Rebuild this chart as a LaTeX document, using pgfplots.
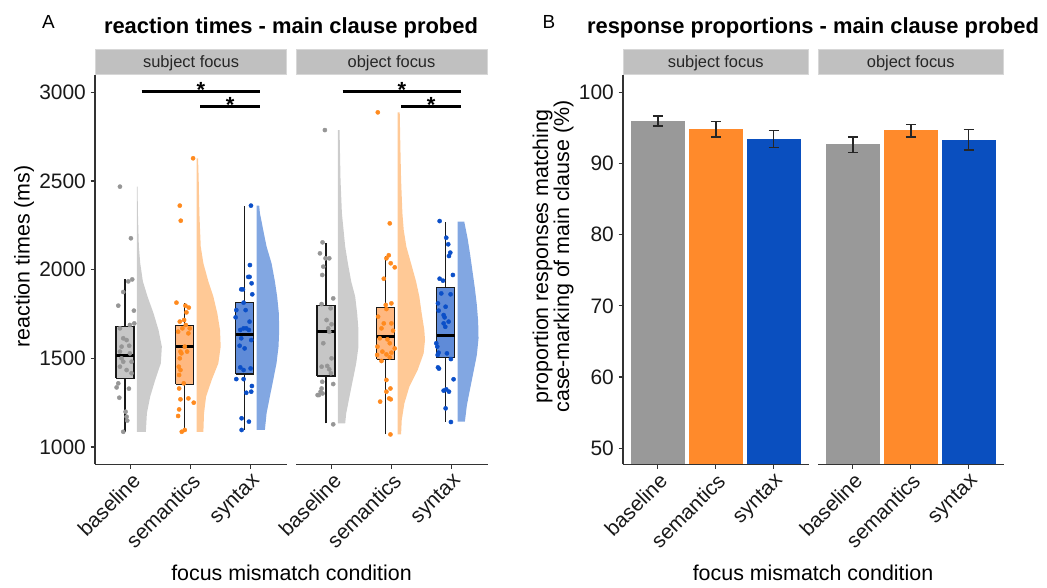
\documentclass[border=0pt]{standalone}
\usepackage{pgfplots}
\pgfplotsset{compat=1.18}
\usepackage{fontspec}
\setmainfont{Liberation Sans}
\definecolor{ptgray}{RGB}{150,150,150}
\definecolor{ptorange}{RGB}{255,138,30}
\definecolor{ptblue}{RGB}{11,79,200}
\definecolor{vgray}{RGB}{204,204,204}
\definecolor{vorange}{RGB}{255,201,150}
\definecolor{vblue}{RGB}{130,167,226}
\definecolor{bgray}{RGB}{198,198,198}
\definecolor{borange}{RGB}{255,184,128}
\definecolor{bblue}{RGB}{95,139,216}
\definecolor{bargray}{RGB}{153,153,153}
\definecolor{barorange}{RGB}{255,138,43}
\definecolor{barblue}{RGB}{10,79,191}
\definecolor{stripfill}{RGB}{192,192,192}
\definecolor{stripdraw}{RGB}{215,215,215}
\newcommand{\tickfont}{\fontsize{21}{21}\selectfont}
\newcommand{\labfont}{\fontsize{21.5}{21.5}\selectfont}
\newcommand{\stripfont}{\fontsize{16.5}{16.5}\selectfont}
\newcommand{\titlefont}{\fontsize{22}{22}\selectfont\bfseries}
\newcommand{\starfont}{\fontsize{22}{22}\selectfont\bfseries}
% box: x-left, x-centre, x-right, lower whisker, lower quartile, median, upper quartile, upper whisker, fill
\newcommand{\bxp}[9]{%
  \addplot[black!90, line width=1.4bp] coordinates {(#2,#4) (#2,#5)};
  \addplot[black!90, line width=1.4bp] coordinates {(#2,#7) (#2,#8)};
  \addplot[fill=#9, draw=black!90, line width=1.4bp] coordinates {(#1,#5) (#3,#5) (#3,#7) (#1,#7) (#1,#5)};
  \addplot[black, line width=3bp] coordinates {(#1,#6) (#3,#6)};
}
% error bar: x, lower, upper, cap-left, cap-right
\newcommand{\erb}[5]{%
  \addplot[black!85, line width=1.5bp] coordinates {(#1,#2) (#1,#3)};
  \addplot[black!85, line width=1.5bp] coordinates {(#4,#2) (#5,#2)};
  \addplot[black!85, line width=1.5bp] coordinates {(#4,#3) (#5,#3)};
}
\pgfplotsset{
  facet/.style={
    scale only axis, anchor=north west, height=389.3bp,
    xmin=0.4, xmax=3.6,
    axis x line*=bottom, axis y line*=left,
    axis line style={-, black!80, line width=1.1bp},
    tick align=outside, major tick length=4.5bp,
    tick style={black!80, line width=1.1bp},
    xtick={1,2,3}, xticklabels={baseline,semantics,syntax},
    xticklabel style={rotate=45, anchor=north east, inner sep=2bp, font=\tickfont, text=black!90},
    yticklabel style={font=\tickfont, text=black!90, inner sep=4.5bp},
    /pgf/number format/assume math mode=true,
    /pgf/number format/1000 sep={},
  },
  rtA/.style={facet, width=191.5bp, ymin=902.5, ymax=3097.5, ytick={1000,1500,2000,2500,3000}, clip=false},
  prB/.style={facet, width=185.5bp, ymin=47.75, ymax=102.4, ytick={50,60,70,80,90,100}},
  noy/.style={axis y line=none},
  vio/.style={draw=none},
  pts/.style={only marks, mark=*, mark size=2.1bp, mark options={draw=none}},
  sig/.style={black, line width=2.6bp},
  br/.style={ybar, fill, draw=none, bar width=0.93, bar shift=0pt},
}
\begin{document}
\begin{tikzpicture}
\useasboundingbox (0,0) rectangle (1047bp,-588bp);
% ---------------- Panel A, facet 1 (subject focus)
\begin{axis}[rtA, at={(95bp,-75bp)}]
\addplot[vio, fill=vgray] coordinates {(1.1,1086) (1.25,1086) (1.267,1190) (1.322,1284) (1.406,1378) (1.5,1472) (1.517,1566) (1.461,1660) (1.378,1754) (1.278,1848) (1.2,1934) (1.156,2036) (1.133,2130) (1.117,2318) (1.111,2468) (1.1,2468)};
\addplot[vio, fill=vorange] coordinates {(2.1,1086) (2.211,1086) (2.222,1190) (2.256,1284) (2.35,1378) (2.461,1472) (2.5,1566) (2.489,1660) (2.444,1754) (2.378,1848) (2.294,1934) (2.211,2036) (2.167,2130) (2.144,2318) (2.133,2506) (2.122,2628) (2.1,2628)};
\addplot[vio, fill=vblue] coordinates {(3.1,1096) (3.239,1096) (3.267,1190) (3.322,1284) (3.378,1378) (3.433,1472) (3.467,1566) (3.478,1660) (3.472,1754) (3.444,1848) (3.406,1934) (3.35,2036) (3.267,2130) (3.211,2224) (3.156,2318) (3.144,2361) (3.1,2361)};
\bxp{0.75}{0.9}{1.05}{1086}{1387}{1515}{1678}{1946}{bgray}
\bxp{1.75}{1.9}{2.05}{1090}{1353}{1568}{1684}{1810}{borange}
\bxp{2.75}{2.9}{3.05}{1096}{1412}{1632}{1814}{2361}{bblue}
\addplot[pts, ptgray] coordinates {(0.817,2468) (1.000,2177) (1.022,1945) (0.956,1934) (0.872,1874) (0.789,1797) (1.050,1769) (1.056,1697) (0.983,1688) (0.817,1669) (0.872,1613) (0.928,1603) (0.972,1571) (0.844,1566) (0.817,1538) (0.983,1528) (0.844,1500) (0.872,1481) (1.011,1481) (0.817,1453) (0.928,1434) (1.011,1416) (0.789,1359) (0.761,1336) (0.967,1329) (0.806,1278) (0.911,1199) (0.928,1171) (0.939,1149) (0.872,1086)};
\addplot[pts, ptorange] coordinates {(2.039,2628) (1.817,2361) (1.833,2276) (1.761,1814) (1.911,1797) (1.967,1786) (1.928,1759) (1.889,1716) (1.817,1707) (1.917,1688) (1.861,1669) (1.983,1669) (1.789,1650) (1.961,1641) (1.900,1566) (1.828,1538) (1.939,1538) (1.844,1528) (1.817,1500) (1.800,1453) (1.828,1434) (1.806,1406) (1.883,1359) (1.806,1330) (1.828,1269) (1.961,1274) (2.050,1250) (1.806,1212) (1.789,1175) (1.850,1086) (1.900,1096)};
\addplot[pts, ptblue] coordinates {(3.006,2361) (2.989,2026) (2.983,1959) (2.961,1959) (3.017,1923) (2.844,1889) (2.872,1889) (3.028,1861) (2.883,1814) (2.761,1772) (2.917,1772) (2.750,1731) (2.983,1707) (2.883,1669) (2.928,1669) (2.828,1660) (2.972,1660) (2.844,1613) (3.011,1603) (2.817,1571) (2.900,1556) (2.828,1449) (3.000,1443) (2.883,1434) (2.761,1383) (2.883,1383) (3.022,1344) (3.011,1312) (2.928,1306) (2.850,1162) (2.972,1143) (2.850,1096)};
\addplot[sig] coordinates {(1.18,3003) (3.16,3003)};
\addplot[sig] coordinates {(2.16,2919) (3.16,2919)};
\node[font=\starfont, anchor=base, yshift=-6bp] at (axis cs:2.17,3003) {*};
\node[font=\starfont, anchor=base, yshift=-6bp] at (axis cs:2.66,2919) {*};
\end{axis}
% ---------------- Panel A, facet 2 (object focus)
\begin{axis}[rtA, noy, at={(296bp,-75bp)}]
\addplot[vio, fill=vgray] coordinates {(1.1,1133) (1.222,1133) (1.239,1190) (1.294,1284) (1.35,1378) (1.406,1472) (1.444,1566) (1.444,1660) (1.422,1754) (1.389,1848) (1.322,1934) (1.267,2036) (1.222,2130) (1.167,2318) (1.144,2506) (1.133,2693) (1.128,2787) (1.1,2787)};
\addplot[vio, fill=vorange] coordinates {(2.1,1071) (2.156,1071) (2.167,1152) (2.211,1246) (2.294,1340) (2.433,1434) (2.533,1528) (2.556,1603) (2.544,1660) (2.5,1754) (2.461,1848) (2.406,1934) (2.322,2036) (2.244,2130) (2.2,2224) (2.178,2318) (2.156,2506) (2.144,2693) (2.133,2887) (2.1,2887)};
\addplot[vio, fill=vblue] coordinates {(3.1,1143) (3.222,1143) (3.256,1237) (3.311,1331) (3.367,1425) (3.422,1519) (3.45,1613) (3.444,1707) (3.422,1801) (3.389,1895) (3.35,1989) (3.311,2083) (3.267,2177) (3.211,2271) (3.1,2271)};
\bxp{0.75}{0.9}{1.05}{1133}{1400}{1652}{1797}{2152}{bgray}
\bxp{1.75}{1.9}{2.05}{1073}{1494}{1622}{1786}{2079}{borange}
\bxp{2.75}{2.9}{3.05}{1143}{1504}{1630}{1900}{2271}{bblue}
\addplot[pts, ptgray] coordinates {(0.883,2787) (0.844,2154) (0.800,2092) (0.894,2064) (0.956,2064) (0.856,2017) (0.839,1970) (1.022,1838) (0.828,1806) (0.978,1782) (0.911,1716) (0.994,1692) (0.939,1669) (0.956,1650) (0.856,1585) (0.994,1500) (0.922,1457) (0.828,1453) (0.956,1438) (0.983,1416) (0.839,1368) (1.022,1355) (0.828,1330) (0.811,1312) (0.844,1302) (0.783,1293) (0.761,1293) (1.022,1128)};
\addplot[pts, ptorange] coordinates {(1.767,2887) (1.967,2261) (1.950,2081) (1.911,2064) (1.983,2036) (2.050,2013) (1.867,1949) (1.994,1810) (1.900,1801) (1.911,1778) (1.772,1735) (1.867,1697) (1.994,1697) (1.828,1669) (2.022,1656) (1.800,1613) (1.928,1607) (1.967,1585) (1.761,1566) (2.050,1556) (1.844,1538) (1.994,1532) (1.911,1522) (1.756,1519) (1.967,1506) (1.828,1485) (1.911,1378) (1.978,1330) (1.911,1312) (1.956,1274) (1.983,1269) (1.806,1256) (1.978,1071)};
\addplot[pts, ptblue] coordinates {(2.800,2274) (2.911,2180) (2.944,2143) (2.978,2096) (2.956,2077) (3.022,1970) (2.800,1949) (2.856,1938) (2.983,1861) (2.828,1866) (2.772,1810) (2.900,1791) (2.783,1769) (2.867,1744) (2.883,1731) (2.950,1707) (2.867,1697) (2.894,1678) (2.744,1585) (2.761,1566) (2.783,1532) (2.922,1528) (2.767,1519) (2.989,1496) (2.772,1449) (2.789,1442) (3.033,1382) (2.911,1325) (2.867,1318) (2.956,1312) (2.900,1218) (2.989,1141)};
\addplot[sig] coordinates {(1.18,3003) (3.16,3003)};
\addplot[sig] coordinates {(2.16,2919) (3.16,2919)};
\node[font=\starfont, anchor=base, yshift=-6bp] at (axis cs:2.17,3003) {*};
\node[font=\starfont, anchor=base, yshift=-6bp] at (axis cs:2.66,2919) {*};
\end{axis}
% ---------------- Panel B, facet 1
\begin{axis}[prB, at={(623bp,-75bp)}]
\addplot[br, bargray] coordinates {(1,96.0)};
\addplot[br, barorange] coordinates {(2,94.85)};
\addplot[br, barblue] coordinates {(3,93.45)};
\erb{1}{95.27}{96.67}{0.914}{1.086}
\erb{2}{93.68}{95.87}{1.914}{2.086}
\erb{3}{92.22}{94.61}{2.914}{3.086}
\end{axis}
% ---------------- Panel B, facet 2
\begin{axis}[prB, noy, at={(818bp,-75bp)}]
\addplot[br, bargray] coordinates {(1,92.7)};
\addplot[br, barorange] coordinates {(2,94.65)};
\addplot[br, barblue] coordinates {(3,93.3)};
\erb{1}{91.52}{93.72}{0.914}{1.086}
\erb{2}{93.68}{95.45}{1.914}{2.086}
\erb{3}{91.85}{94.75}{2.914}{3.086}
\end{axis}
% ---------------- strips
\foreach \xa/\xb/\txt in {95.7/286.5/subject focus, 296/487/object focus, 623/808.5/subject focus, 818/1003.5/object focus}{
  \draw[fill=stripfill, draw=stripdraw, line width=0.8bp] (\xa bp,-49.3bp) rectangle (\xb bp,-74.3bp);
  \pgfmathsetmacro{\xm}{(\xa+\xb)/2}
  \node[font=\stripfont, text=black!85, anchor=base] at (\xm bp,-67bp) {\txt};
}
% ---------------- titles and labels
\node[font=\fontsize{19}{19}\selectfont, anchor=base] at (48.5bp,-28.5bp) {A};
\node[font=\fontsize{19}{19}\selectfont, anchor=base] at (549bp,-28.5bp) {B};
\node[font=\titlefont, anchor=base] at (291bp,-33.5bp) {reaction times - main clause probed};
\node[font=\titlefont, anchor=base] at (813bp,-33.5bp) {response proportions - main clause probed};
\node[font=\labfont, anchor=base] at (291.5bp,-580bp) {focus mismatch condition};
\node[font=\labfont, anchor=base] at (813bp,-580bp) {focus mismatch condition};
\node[font=\labfont, anchor=base, rotate=90] at (29.5bp,-256.5bp) {reaction times (ms)};
\node[font=\labfont, anchor=base, rotate=90] at (548bp,-256.5bp) {proportion responses matching};
\node[font=\labfont, anchor=base, rotate=90] at (569bp,-256.5bp) {case-marking of main clause (\%)};
\end{tikzpicture}
\end{document}
